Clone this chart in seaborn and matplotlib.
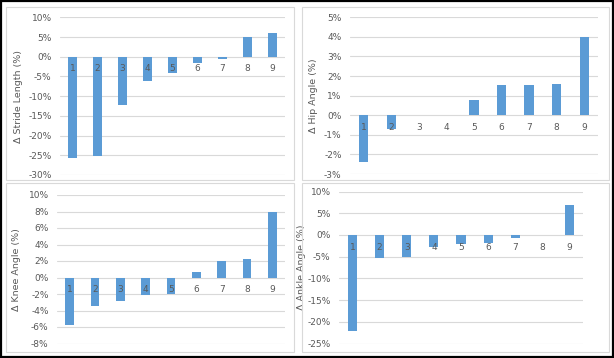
import matplotlib.pyplot as plt
import matplotlib.patches as mpatches
import seaborn as sns

trials = ["1", "2", "3", "4", "5", "6", "7", "8", "9"]

stride_length = [-25.6, -25.2, -12.2, -6.1, -4.1, -1.7, -0.6, 5.1, 5.9]
hip_angle = [-2.4, -0.7, 0.0, 0.0, 0.8, 1.55, 1.55, 1.6, 4.0]
knee_angle = [-5.8, -3.4, -2.8, -2.1, -2.0, 0.7, 2.0, 2.2, 8.0]
ankle_angle = [-22.1, -5.2, -5.0, -2.8, -2.0, -1.9, -0.8, 0.0, 7.0]

BAR = "#5B9BD5"
GRID = "#D9D9D9"
TEXT = "#595959"

sns.set_theme(style="white")
plt.rcParams["font.family"] = ["DejaVu Sans"]

W, H = 614, 358
fig = plt.figure(figsize=(W / 100, H / 100), dpi=100)
fig.patch.set_facecolor("white")


def px_rect(x0, y0, x1, y1):
    # pixel box (top-left origin) -> figure fraction [l, b, w, h]
    return [x0 / W, 1 - y1 / H, (x1 - x0) / W, (y1 - y0) / H]


# panel frames
for box in [(6, 7, 294, 180), (302, 7, 609, 180), (6, 183, 294, 352), (302, 183, 609, 352)]:
    l, b, w, h = px_rect(*box)
    fig.add_artist(mpatches.Rectangle((l, b), w, h, transform=fig.transFigure,
                                      fill=False, edgecolor=GRID, lw=0.8))
# outer black border
fig.add_artist(mpatches.Rectangle((0.001, 0.002), 0.998, 0.996, transform=fig.transFigure,
                                  fill=False, edgecolor="black", lw=1.6))

panels = [
    (stride_length, "Δ Stride Length (%)", (60, 17.3, 285, 175), (-30, 10, 5), -0.165),
    (hip_angle, "Δ Hip Angle (%)", (350, 17.3, 598, 174), (-3, 5, 1), -0.13),
    (knee_angle, "Δ Knee Angle (%)", (57, 195, 285, 343.5), (-8, 10, 2), -0.16),
    (ankle_angle, "Δ Ankle Angle (%)", (339, 191.5, 583, 343.5), (-25, 10, 5), -0.135),
]

for vals, label, box, (lo, hi, step), lab_x in panels:
    ax = fig.add_axes(px_rect(*box))
    ax.set_facecolor("none")
    sns.barplot(x=trials, y=vals, ax=ax, color=BAR, saturation=1, width=0.34,
                linewidth=0, zorder=2)
    ax.set_xlim(-0.5, len(trials) - 0.5)
    ax.set_ylim(lo, hi)
    ax.set_yticks(range(lo, hi + 1, step))
    ax.set_yticklabels([f"{t}%" for t in range(lo, hi + 1, step)])
    ax.set_axisbelow(True)
    ax.yaxis.grid(True, color=GRID, lw=0.8)
    ax.xaxis.grid(False)
    for s in ax.spines.values():
        s.set_visible(False)
    ax.tick_params(axis="both", length=0, labelsize=6.5, labelcolor=TEXT, pad=6)
    ax.tick_params(axis="x", labelbottom=False)
    ax.set_xlabel("")
    ax.set_ylabel(label, fontsize=6.8, color=TEXT)
    ax.yaxis.set_label_coords(lab_x, 0.5)
    # category labels sit just under the zero line, over the bars
    for i, t in enumerate(trials):
        ax.annotate(t, (i, 0), xytext=(0, -5.5), textcoords="offset points",
                    ha="center", va="top", fontsize=6.5, color=TEXT, zorder=5)

fig.savefig("out.png", dpi=100)
